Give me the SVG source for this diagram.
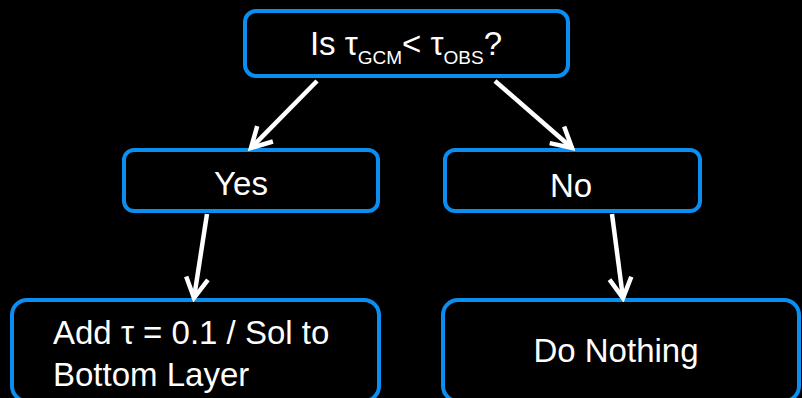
<svg xmlns="http://www.w3.org/2000/svg" width="802" height="398" viewBox="0 0 802 398">
<style>
.box{fill:#000;stroke:#0a8ff0;stroke-width:4}
.t{fill:#fff;font-family:"Liberation Sans",Arial,sans-serif;font-size:33px}
.sub{font-size:19px}
.c{stroke:#fff;stroke-width:4.5;fill:none;marker-end:url(#ah)}
</style>
<defs>
<marker id="ah" markerUnits="userSpaceOnUse" viewBox="-24 -14 28 28" refX="0" refY="0" markerWidth="28" markerHeight="28" orient="auto">
<path d="M-20,-11 L0,0 L-20,11" fill="none" stroke="#fff" stroke-width="4.5" stroke-linejoin="miter"/>
</marker>
</defs>
<rect width="802" height="398" fill="#000"/>
<g id="node-question">
<rect class="box" x="245" y="11" width="323" height="65" rx="11"/>
<text class="t" x="406" y="55" text-anchor="middle">Is τ<tspan class="sub" dy="9">GCM</tspan><tspan dy="-9">&lt; τ</tspan><tspan class="sub" dy="9">OBS</tspan><tspan dy="-9">?</tspan></text>
</g>
<g id="node-yes">
<rect class="box" x="124" y="150" width="254" height="61" rx="10"/>
<text class="t" x="241" y="195" text-anchor="middle">Yes</text>
</g>
<g id="node-no">
<rect class="box" x="445" y="150" width="255" height="61" rx="10"/>
<text class="t" x="571" y="197" text-anchor="middle">No</text>
</g>
<g id="node-add">
<rect class="box" x="12" y="300" width="367" height="101" rx="15"/>
<text class="t" x="53" y="344">Add τ = 0.1 / Sol to</text>
<text class="t" x="53" y="386">Bottom Layer</text>
</g>
<g id="node-nothing">
<rect class="box" x="443" y="300" width="356" height="101" rx="15"/>
<text class="t" x="616" y="362" text-anchor="middle">Do Nothing</text>
</g>
<g id="connectors">
<line class="c" x1="317" y1="81" x2="251" y2="148"/>
<line class="c" x1="495" y1="81" x2="572" y2="148"/>
<line class="c" x1="207" y1="214" x2="194" y2="298"/>
<line class="c" x1="612" y1="214" x2="623" y2="298"/>
</g>
</svg>
